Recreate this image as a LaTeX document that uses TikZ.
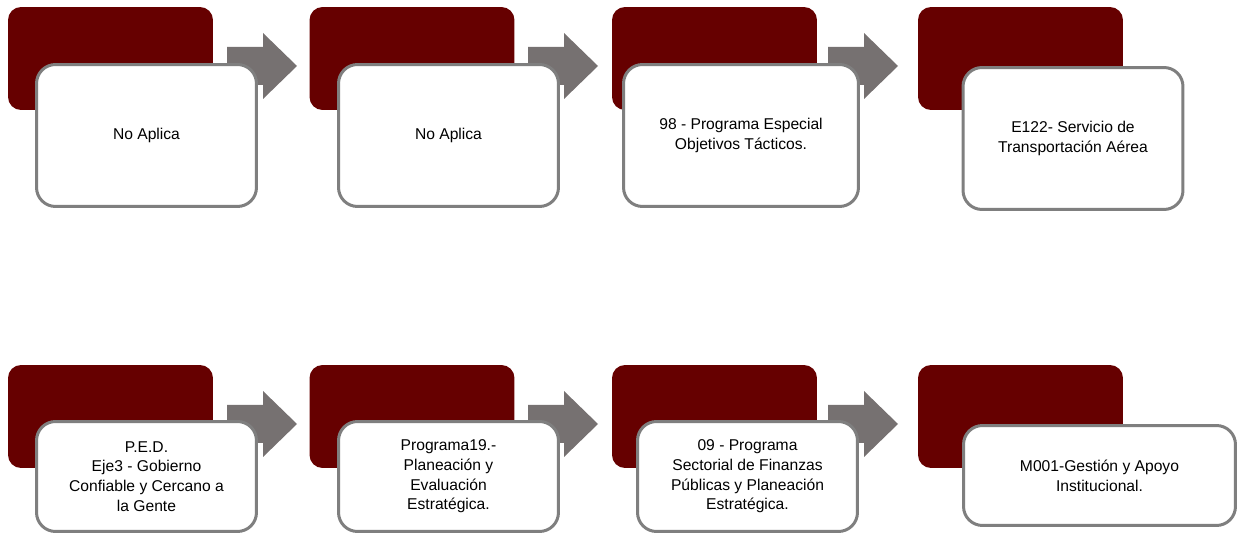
\documentclass[tikz,border=0pt]{standalone}
\usepackage{fontspec}
\setmainfont{Liberation Sans}

\definecolor{vino}{HTML}{660000}
\definecolor{borde}{HTML}{7F7F7F}
\definecolor{flechagris}{HTML}{767171}

\tikzset{
  fondo/.style={rectangle, fill=vino, rounded corners=0.26cm, minimum width=4.1cm, minimum height=2.06cm, inner sep=0pt},
  tarjeta/.style={rectangle, draw=borde, fill=white, line width=0.06cm, rounded corners=0.38cm,
    minimum width=4.4cm, minimum height=2.84cm, inner sep=0pt, align=center,
    font=\fontsize{8.9}{11.2}\selectfont},
  flecha/.style={fill=flechagris}
}

\begin{document}
\begin{tikzpicture}[x=0.02cm,y=-0.02cm]
		\clip (0,0) rectangle (1238,533);

		% fila superior
		\node[fondo] (f1) at (110.5,58.5) {};
		\node[fondo] (f2) at (412,58.5) {};
		\node[fondo] (f3) at (714.5,58.5) {};
		\node[fondo] (f4) at (1020.5,58.5) {};

		% fila inferior
		\node[fondo] (g1) at (110.5,416.5) {};
		\node[fondo] (g2) at (412,416.5) {};
		\node[fondo] (g3) at (714.5,416.5) {};
		\node[fondo] (g4) at (1020.5,416.5) {};

		% flechas (punta)
		\foreach \n/\px/\py in {a1/297/66, a2/598/66, a3/898/66, b1/297/424, b2/598/424, b3/898/424}{
			\coordinate (\n) at (\px,\py);
			\fill[flecha] (\n) -- ++(-34,-33) -- ++(0,14) -- ++(-36,0) -- ++(0,38) -- ++(36,0) -- ++(0,14) -- cycle;
		}

		\node[tarjeta] (t1) at (146.5,135.5) {No Aplica};
		\node[tarjeta] (t2) at (448.5,135.5) {No Aplica};
		\node[tarjeta, minimum width=4.7cm] (t3) at (741,135.5) {98 - Programa Especial\\Objetivos Tácticos.};
		\node[tarjeta] (t4) at (1073,138.5) {E122- Servicio de\\Transportación Aérea};

		\node[tarjeta, minimum height=2.2cm] (u1) at (146.5,476.5) {P.E.D.\\Eje3 - Gobierno\\Confiable y Cercano a\\la Gente};
		\node[tarjeta, minimum height=2.2cm] (u2) at (448.5,476.5) {Programa19.-\\Planeación y\\Evaluación\\Estratégica.};
		\node[tarjeta, minimum height=2.2cm] (u3) at (747.5,476.5) {09 - Programa\\Sectorial de Finanzas\\Públicas y Planeación\\Estratégica.};
		\node[tarjeta, minimum width=5.44cm, minimum height=2.0cm] (u4) at (1099.5,475.5) {M001-Gestión y Apoyo\\Institucional.};
\end{tikzpicture}
\end{document}
